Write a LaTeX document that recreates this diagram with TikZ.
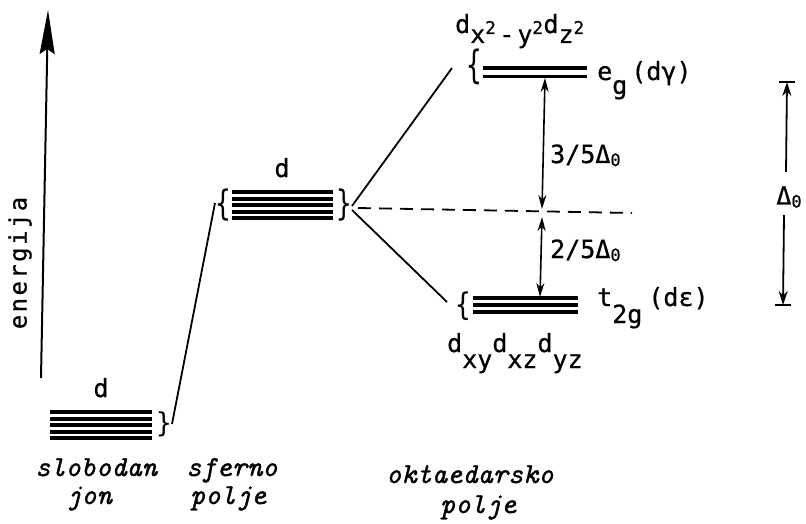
\documentclass[tikz,border=0pt]{standalone}
\usepackage{fontspec}
\newfontfamily\lblfont[FakeBold=0.6]{DejaVu Sans Mono}
\newfontfamily\brcfont{DejaVu Sans Mono}
\newfontfamily\lblwide[LetterSpace=10,FakeBold=0.6]{DejaVu Sans Mono}
\newfontfamily\capfont[ItalicFeatures={FakeBold=1.2}]{Latin Modern Mono}
\usetikzlibrary{arrows.meta}
\newcommand\vbrace[2]{\scalebox{1}[#2]{#1}}
\begin{document}
\begin{tikzpicture}[x=1pt,y=-1pt,
  lvl/.style={line width=4pt},
  conn/.style={line width=1.8pt},
  lbl/.style={font=\lblfont\fontsize{25}{25}\selectfont, inner sep=0pt},
  brc/.style={font=\brcfont\fontsize{26}{26}\selectfont, inner sep=0pt},
  captext/.style={font=\capfont\itshape\fontsize{29}{29}\selectfont, inner sep=0pt, anchor=base west},
  dbl/.style={line width=1.6pt, {Stealth[length=14pt,width=8pt]}-{Stealth[length=14pt,width=8pt]}},
]
\useasboundingbox (0,0) rectangle (806,524);

% energy axis
\coordinate (ebot) at (41,378);
\coordinate (etop) at (48,10);
\draw[line width=2pt, -{Stealth[length=44pt,width=15pt,inset=5pt]}] (ebot) -- (etop);
\node[font=\lblwide\fontsize{24}{24}\selectfont, rotate=90, inner sep=0pt] (en) at (20,263) {energija};

% free ion: five degenerate d levels
\foreach \y in {412,418.5,425,431.5,438} \draw[lvl] (50,\y) -- (152,\y);
\node[lbl, anchor=base] (dfree) at (101,397) {d};
\node[brc] (fbr) at (164,424) {\vbrace{\}}{1.05}};
\coordinate (f1) at (172,424);

% spherical field
\foreach \y in {192,198.5,205,211.5,218} \draw[lvl] (232,\y) -- (333,\y);
\node[lbl, anchor=base] (dsph) at (282,177) {d};
\node[brc] (sbl) at (223,205) {\vbrace{\{}{1.35}};
\node[brc] (sbr) at (344,205) {\vbrace{\}}{1.35}};
\coordinate (s0) at (215,203);
\coordinate (s1) at (352,206);
\coordinate (s2) at (352,210);
\coordinate (s3) at (358,208);
\draw[conn] (f1) -- (s0);

% octahedral field: e_g and t_2g
\draw[line width=4pt] (483,68.5) -- (587,68.5);
\draw[line width=3pt] (483,76.5) -- (587,76.5);
\foreach \y in {298,305,312} \draw[line width=3.5pt] (473,\y) -- (578,\y);
\node[brc] (ebr) at (474,67) {\vbrace{\{}{1.5}};
\node[brc] (tbr) at (463,306) {\vbrace{\{}{1.2}};
\coordinate (eg) at (452,68);
\coordinate (tg) at (447,302);
\coordinate (dend) at (632,213);
\draw[conn] (s1) -- (eg);
\draw[conn] (s2) -- (tg);
\draw[conn, dash pattern=on 13pt off 8pt] (s3) -- (dend);

% labels of the split levels
\node[lbl, anchor=base west] (egorb) at (455,33)
  {d\raisebox{-10pt}{x\textsuperscript{2}\kern3pt-\kern3pt y\textsuperscript{2}}d\raisebox{-10pt}{z\textsuperscript{2}}};
\node[lbl, anchor=base west] (eglbl) at (597,80) {e\raisebox{-14pt}{g}\kern4pt(dγ)};
\node[lbl, anchor=base west] (tglbl) at (597,306) {t\raisebox{-17pt}{2g}\kern6pt(dε)};
\node[lbl, anchor=base west] (tgorb) at (447,352)
  {d\raisebox{-16pt}{xy}d\raisebox{-16pt}{xz}d\raisebox{-16pt}{yz}};

% splitting arrows
\coordinate (a1) at (545,78);
\coordinate (a2) at (542,209);
\coordinate (a3) at (542,217);
\coordinate (a4) at (540,297);
\draw[dbl] (a1) -- (a2);
\draw[dbl] (a3) -- (a4);
\node[lbl, anchor=base west] (l35) at (550,163) {3/5Δ\raisebox{-3pt}{\fontsize{17}{17}\selectfont 0}};
\node[lbl, anchor=base west] (l25) at (550,258) {2/5Δ\raisebox{-3pt}{\fontsize{17}{17}\selectfont 0}};

% total splitting
\coordinate (bt) at (787,82);
\coordinate (bb) at (783,305);
\draw[line width=2pt] (779,82) -- (795,82);
\draw[line width=2pt] (775,305) -- (791,305);
\node[lbl] (dz) at (789,197) {Δ\raisebox{-3pt}{\fontsize{17}{17}\selectfont 0}};
\coordinate (u0) at (786,172);
\coordinate (d0) at (784,215);
\draw[line width=1.8pt, -{Stealth[length=14pt,width=9pt]}] (u0) -- (bt);
\draw[line width=1.8pt, -{Stealth[length=14pt,width=9pt]}] (d0) -- (bb);

% captions
\node[captext] (c1) at (35,476) {slobodan};
\node[captext] (c2) at (66,504) {jon};
\node[captext] (c3) at (186,476) {sferno};
\node[captext] (c4) at (190,504) {polje};
\node[captext] (c5) at (386,483) {oktaedarsko};
\node[captext] (c6) at (440,513) {polje};
\end{tikzpicture}
\end{document}
